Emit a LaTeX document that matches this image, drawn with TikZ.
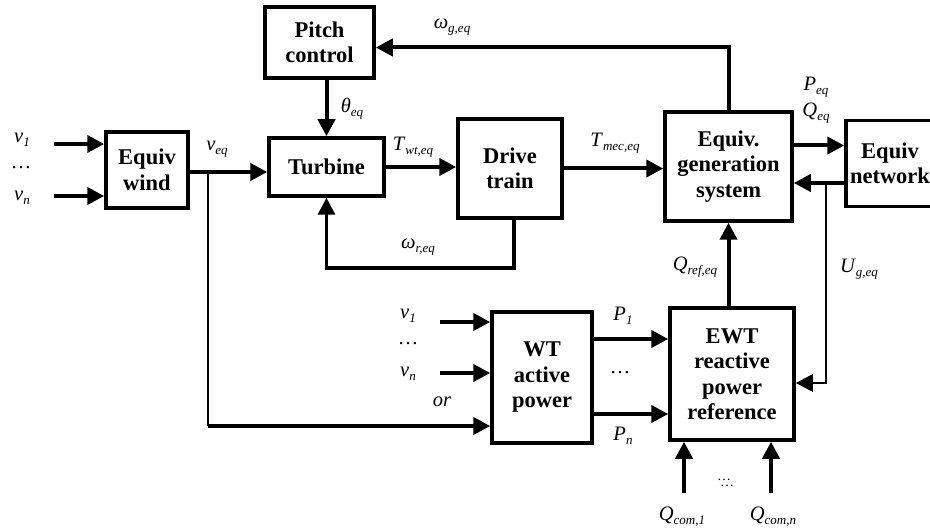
\documentclass[tikz,border=0pt]{standalone}
\usepackage{fontspec}
\setmainfont{Liberation Serif}
\usetikzlibrary{arrows.meta,positioning,calc}
% signal name with italic subscript
\newcommand{\sig}[2]{\textit{#1}\raisebox{-4pt}{\fontsize{13}{13}\selectfont\itshape #2}}

\begin{document}
\begin{tikzpicture}[x=1pt,y=-1pt,
  blk/.style={draw,line width=3.5pt,align=center,inner sep=0pt,
    font=\fontsize{22.5}{25.5}\selectfont\bfseries},
  sigline/.style={line width=4pt},
  thinline/.style={line width=2.7pt},
  arr/.style={sigline,-{Triangle[length=17pt,width=17pt]}},
  lbl/.style={font=\fontsize{20.5}{24}\selectfont,inner sep=0pt}]
  \useasboundingbox (0,0) rectangle (930,532);
  % Blocks
  \node[blk,minimum width=82pt,minimum height=76pt] (wind) at (147,170) {Equiv\\wind};
  \node[blk,minimum width=109pt,minimum height=71pt] (pitch) at (319.5,42.5) {Pitch\\control};
  \node[blk,minimum width=115pt,minimum height=58pt] (turbine) at (326.5,167) {Turbine};
  \node[blk,minimum width=104pt,minimum height=99pt] (drive) at (510,168.5) {Drive\\train};
  \node[blk,minimum width=127pt,minimum height=109pt] (gen) at (728.5,166.5) {Equiv.\\generation\\system};
  \node[blk,minimum width=88pt,minimum height=86pt] (net) at (890,163.5) {Equiv\\network};
  \node[blk,minimum width=100pt,minimum height=131pt] (wt) at (542,377.5) {WT\\active\\power};
  \node[blk,minimum width=124pt,minimum height=132pt] (ewt) at (732,374) {EWT\\reactive\\power\\reference};

  % Wind speeds into equivalent wind
  \coordinate (w1) at (54,144);
  \coordinate (wn) at (54,196);
  \draw[arr] (w1) -- (w1 -| wind.west);
  \draw[arr] (wn) -- (wn -| wind.west);
  \node[lbl] (v1a) at (22,140) {\sig{v}{1}};
  \node[lbl] (dotsa) at (21,168) {…};
  \node[lbl] (vna) at (22,198) {\sig{v}{n}};

  % Equivalent wind to turbine, with branch down to WT active power
  \coordinate (br) at (208,172);
  \coordinate (brd) at (208,426);
  \draw[arr] (wind.east |- br) -- (br -| turbine.west);
  \draw[thinline] (br) -- (brd);
  \draw[arr] (brd) -- (brd -| wt.west);
  \node[lbl] (veq) at (217,149) {\sig{v}{eq}};

  % Pitch and drive train loop
  \draw[arr] (turbine.north |- pitch.south) -- (turbine.north);
  \node[lbl] (theta) at (352,109) {\sig{θ}{eq}};
  \draw[arr] (turbine.east) -- (turbine.east -| drive.west);
  \node[lbl] (twt) at (413,147) {\sig{T}{wt,eq}};
  \coordinate (fb) at (514,268);
  \draw[line width=3.2pt,-{Triangle[length=17pt,width=17pt]}]
    (fb |- drive.south) -- (fb) -| (turbine.south);
  \node[lbl] (wr) at (418,247) {\sig{ω}{r,eq}};
  \draw[arr] (drive.east) -- (drive.east -| gen.west);
  \node[lbl] (tmec) at (615,143) {\sig{T}{mec,eq}};
  \draw[arr] (gen.north) |- ([yshift=-5pt]pitch.east);
  \node[lbl] (wg) at (452,27) {\sig{ω}{g,eq}};

  % Network side
  \draw[arr] ([yshift=21pt]gen.east) -- ([yshift=21pt]gen.east -| net.west);
  \node[lbl] (peq) at (816,87) {\sig{P}{eq}};
  \node[lbl] (qeq) at (816,113) {\sig{Q}{eq}};
  \coordinate (ug) at (826,183);
  \draw[arr] (ug -| net.west) -- (ug -| gen.east);
  \draw[arr,line width=2.8pt] (ug) |- ([yshift=-9pt]ewt.east);
  \node[lbl] (ugeq) at (859,269) {\sig{U}{g,eq}};
  \draw[arr] (gen.south |- ewt.north) -- (gen.south);
  \node[lbl] (qref) at (695,267) {\sig{Q}{ref,eq}};

  % WT active power inputs and outputs
  \coordinate (a1) at (440,322);
  \coordinate (an) at (440,373);
  \draw[arr] (a1) -- (a1 -| wt.west);
  \draw[arr] (an) -- (an -| wt.west);
  \node[lbl] (v1b) at (408,316) {\sig{v}{1}};
  \node[lbl] (dotsb) at (408,344) {…};
  \node[lbl] (vnb) at (408,374) {\sig{v}{n}};
  \node[lbl] (orl) at (442,402) {\textit{or}};
  \draw[arr] ([yshift=38.5pt]wt.east) -- ([yshift=38.5pt]wt.east -| ewt.west);
  \draw[arr] ([yshift=-36.5pt]wt.east) -- ([yshift=-36.5pt]wt.east -| ewt.west);
  \node[lbl] (p1) at (623,316) {\sig{P}{1}};
  \node[lbl] (dotsp) at (620,373) {…};
  \node[lbl] (pn) at (623,436) {\sig{P}{n}};

  % Reactive power commands
  \coordinate (q1) at (684,493);
  \coordinate (qn) at (771,493);
  \draw[arr] (q1) -- (q1 |- ewt.south);
  \draw[arr] (qn) -- (qn |- ewt.south);
  \node[lbl,font=\fontsize{14}{14}\selectfont] (dotsq) at (724,483)
    {…\llap{\raisebox{-6pt}{…}\hspace{-3pt}}};
  \node[lbl] (qc1) at (682,517) {\sig{Q}{com,1}};
  \node[lbl] (qcn) at (773,517) {\sig{Q}{com,n}};
\end{tikzpicture}
\end{document}
